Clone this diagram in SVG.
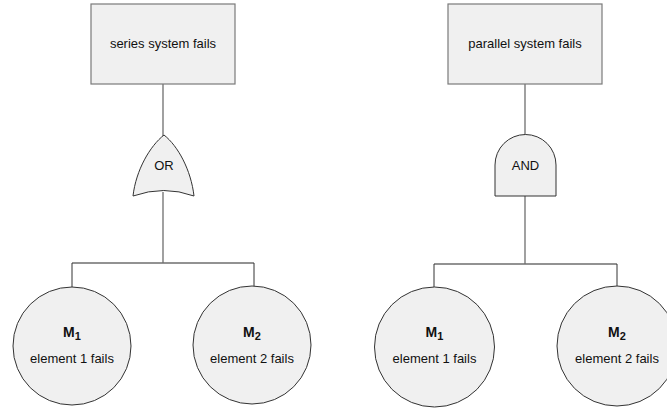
<svg xmlns="http://www.w3.org/2000/svg" width="667" height="411" viewBox="0 0 667 411">
<style>
.box{fill:#f0f0f0;stroke:#7a7a7a;stroke-width:1.2}
.shape{fill:#f0f0f0;stroke:#333;stroke-width:1}
.conn{fill:none;stroke:#6e6e6e;stroke-width:1.3}
.conn2{fill:none;stroke:#333;stroke-width:1}
text{font-family:"Liberation Sans",Arial,sans-serif;font-size:13px;fill:#111;text-anchor:middle}
.m{font-size:14px;font-weight:bold}
.sub{font-size:11px;font-weight:bold}
</style>
<rect width="667" height="411" fill="#fff"/>
<g id="connectors">
<path class="conn" d="M163,84V136"/>
<path class="conn" d="M163,192V263"/>
<path class="conn" d="M72,263H254"/>
<path class="conn2" d="M72,263V287M254,263V287"/>
<path class="conn" d="M525,84V136"/>
<path class="conn" d="M525,196V264"/>
<path class="conn" d="M434,264H617"/>
<path class="conn2" d="M434,264V287M617,264V286"/>
</g>
<g id="top-series">
<rect class="box" x="91" y="4" width="144" height="80"/>
<text x="163" y="48">series system fails</text>
</g>
<g id="top-parallel">
<rect class="box" x="448" y="4" width="154" height="80"/>
<text x="525" y="48">parallel system fails</text>
</g>
<g id="gate-or">
<path class="shape" d="M164,135C150,146 136,170 133,196Q164,185 194,196C191,170 178,146 164,135Z"/>
<text x="164" y="170">OR</text>
</g>
<g id="gate-and">
<path class="shape" d="M495,196V165A30.5,30.5 0 0 1 556,165V196Z"/>
<text x="525.5" y="170">AND</text>
</g>
<g id="m1-left">
<circle class="shape" cx="72" cy="346" r="59"/>
<text x="72" y="337"><tspan class="m">M</tspan><tspan class="sub" dy="3">1</tspan></text>
<text x="72" y="363">element 1 fails</text>
</g>
<g id="m2-left">
<circle class="shape" cx="252" cy="345" r="59"/>
<text x="252" y="337"><tspan class="m">M</tspan><tspan class="sub" dy="3">2</tspan></text>
<text x="252" y="363">element 2 fails</text>
</g>
<g id="m1-right">
<circle class="shape" cx="434.5" cy="347" r="60"/>
<text x="434.5" y="337"><tspan class="m">M</tspan><tspan class="sub" dy="3">1</tspan></text>
<text x="434.5" y="363">element 1 fails</text>
</g>
<g id="m2-right">
<circle class="shape" cx="617" cy="346" r="60"/>
<text x="617" y="337"><tspan class="m">M</tspan><tspan class="sub" dy="3">2</tspan></text>
<text x="617" y="363">element 2 fails</text>
</g>
</svg>
